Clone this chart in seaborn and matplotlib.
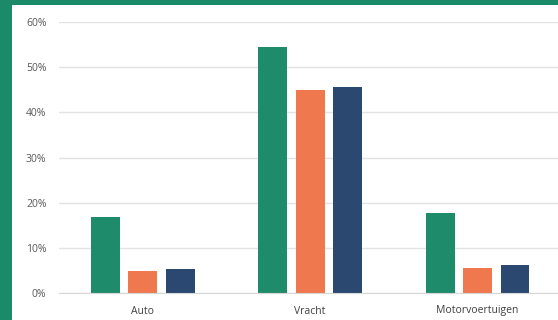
import pandas as pd
import seaborn as sns
import matplotlib.pyplot as plt
from matplotlib.patches import Rectangle
from matplotlib.ticker import PercentFormatter

categories = ['Auto', 'Vracht', 'Motorvoertuigen']
series = ['Serie 1', 'Serie 2', 'Serie 3']
serie1 = [0.168, 0.544, 0.177]
serie2 = [0.049, 0.449, 0.055]
serie3 = [0.053, 0.456, 0.062]
colors = ['#1E8C6A', '#F0784F', '#2B4870']

rows = []
for name, vals in zip(series, [serie1, serie2, serie3]):
    for cat, v in zip(categories, vals):
        rows.append({'categorie': cat, 'serie': name, 'waarde': v})
df = pd.DataFrame(rows)

sns.set_style('white')
plt.rcParams['font.family'] = ['Open Sans', 'DejaVu Sans']

fig = plt.figure(figsize=(5.58, 3.2), dpi=100)
fig.patch.set_facecolor('#1B8A66')
fig.add_artist(Rectangle((12 / 558, 0), 1, 1 - 5 / 320, transform=fig.transFigure,
                         facecolor='white', edgecolor='none', zorder=0))

ax = fig.add_axes([59 / 558, 27 / 320, 499 / 558, 271 / 320])
ax.set_facecolor('none')

sns.barplot(data=df, x='categorie', y='waarde', hue='serie', order=categories,
            palette=colors, saturation=1, width=0.67, gap=0.23, legend=False,
            linewidth=0, ax=ax)

ax.set_xlim(-0.5, 2.48)
ax.set_ylim(0, 0.6)
ax.set_yticks([0, 0.1, 0.2, 0.3, 0.4, 0.5, 0.6])
ax.yaxis.set_major_formatter(PercentFormatter(1.0, decimals=0))
ax.grid(axis='y', color='#E3E3E3', linewidth=1)
ax.set_axisbelow(True)
for s in ['top', 'right', 'left']:
    ax.spines[s].set_visible(False)
ax.spines['bottom'].set_color('#D6D6D6')
ax.tick_params(axis='y', length=0, pad=9, labelsize=7.5, labelcolor='#595959')
ax.tick_params(axis='x', length=0, pad=9, labelsize=7.5, labelcolor='#404040')
ax.set_xlabel('')
ax.set_ylabel('')

fig.savefig('out.png', dpi=100, facecolor=fig.get_facecolor())
